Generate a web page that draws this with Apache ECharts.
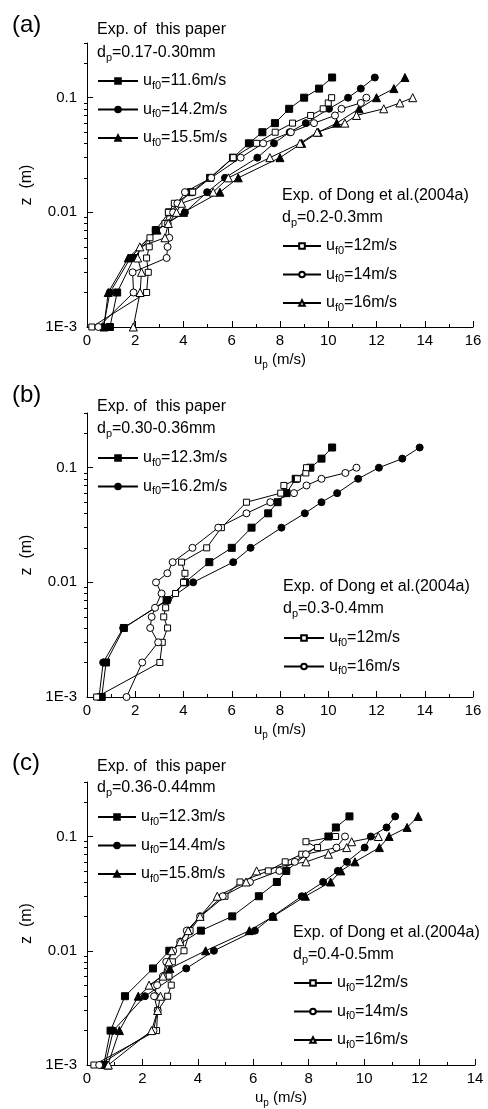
<!DOCTYPE html>
<html>
<head>
<meta charset="utf-8">
<script src="https://cdn.jsdelivr.net/npm/echarts@6/dist/echarts.min.js"></script>
<style>html,body{margin:0;padding:0;background:#fff;}#c{width:488px;height:1109px;}</style>
</head>
<body>
<div id="c"></div>
<script>
// ---------- data: [u_p (m/s), z (m)] ----------
// Panel (a)
const a_this_116 = [[0.95,0.001],[1.25,0.002],[1.95,0.004],[2.85,0.007],[3.4,0.01],[4.3,0.015],[5.1,0.02],[6.05,0.03],[6.71,0.04],[7.27,0.05],[7.79,0.06],[8.38,0.08],[9.0,0.1],[9.62,0.12],[10.16,0.15]];
const a_this_142 = [[0.68,0.001],[0.95,0.002],[1.8,0.004],[2.85,0.007],[4.06,0.01],[4.98,0.015],[5.72,0.02],[7.06,0.03],[7.75,0.04],[8.4,0.05],[9.07,0.06],[10.03,0.08],[10.82,0.1],[11.35,0.12],[11.93,0.15]];
const a_this_155 = [[0.7,0.001],[0.88,0.002],[1.71,0.004],[2.9,0.007],[4.0,0.01],[5.51,0.015],[6.27,0.02],[8.0,0.03],[8.9,0.04],[9.59,0.05],[10.35,0.06],[11.28,0.08],[12.0,0.1],[12.72,0.12],[13.18,0.15]];
const a_dong_12 = [[0.2,0.001],[2.47,0.002],[2.54,0.003],[2.47,0.004],[2.58,0.005],[2.61,0.006],[3.23,0.008],[3.37,0.01],[3.62,0.012],[4.38,0.015],[5.12,0.02],[6.06,0.03],[7.03,0.04],[7.8,0.05],[8.52,0.06],[9.27,0.07],[9.79,0.08],[10.0,0.09],[10.14,0.1]];
const a_dong_14 = [[0.47,0.001],[1.93,0.002],[1.89,0.003],[3.3,0.004],[3.34,0.005],[3.41,0.006],[3.35,0.008],[3.57,0.01],[3.75,0.012],[4.06,0.015],[5.15,0.02],[6.37,0.03],[7.3,0.04],[8.45,0.05],[9.41,0.06],[10.28,0.07],[10.55,0.08],[11.35,0.09],[11.58,0.1]];
const a_dong_16 = [[1.92,0.001],[2.2,0.002],[2.26,0.003],[2.1,0.004],[2.19,0.005],[3.23,0.006],[3.37,0.008],[3.71,0.01],[3.92,0.012],[5.23,0.015],[5.86,0.02],[7.58,0.03],[8.83,0.04],[9.54,0.05],[10.69,0.06],[11.17,0.07],[12.3,0.08],[12.97,0.09],[13.5,0.1]];
// Panel (b)
const b_this_123 = [[0.61,0.001],[0.79,0.002],[1.53,0.004],[3.3,0.007],[4.06,0.01],[5.07,0.015],[6.0,0.02],[6.82,0.03],[7.51,0.04],[7.9,0.05],[8.27,0.06],[8.65,0.08],[9.26,0.1],[9.72,0.12],[10.16,0.15]];
const b_this_162 = [[0.5,0.001],[0.67,0.002],[1.5,0.004],[3.35,0.007],[4.4,0.01],[6.06,0.015],[6.78,0.02],[8.06,0.03],[9.03,0.04],[9.72,0.05],[10.37,0.06],[11.24,0.08],[12.1,0.1],[13.07,0.12],[13.79,0.15]];
const b_dong_12 = [[0.4,0.001],[3.02,0.002],[3.12,0.003],[3.34,0.004],[3.18,0.005],[3.26,0.006],[3.67,0.008],[4.0,0.01],[4.06,0.012],[3.92,0.015],[4.96,0.02],[5.57,0.03],[6.61,0.05],[8.03,0.06],[8.16,0.07],[8.72,0.08],[9.07,0.09],[9.1,0.1]];
const b_dong_16 = [[1.64,0.001],[2.29,0.002],[2.95,0.003],[2.62,0.004],[2.68,0.005],[2.82,0.006],[3.09,0.008],[2.86,0.01],[3.33,0.012],[3.55,0.015],[4.37,0.02],[5.44,0.03],[6.61,0.04],[7.6,0.05],[8.58,0.06],[9.1,0.07],[9.72,0.08],[10.71,0.09],[11.17,0.1]];
// Panel (c)
const c_this_123 = [[0.6,0.001],[0.85,0.002],[1.37,0.004],[2.38,0.007],[2.97,0.01],[4.11,0.015],[5.24,0.02],[6.2,0.03],[6.85,0.04],[7.19,0.05],[8.71,0.1],[8.98,0.12],[9.47,0.15]];
const c_this_144 = [[0.65,0.001],[0.95,0.002],[2.09,0.004],[3.58,0.007],[4.58,0.01],[6.06,0.015],[6.7,0.02],[7.75,0.03],[8.52,0.04],[9.05,0.05],[9.38,0.06],[10.02,0.08],[10.24,0.1],[10.81,0.12],[11.12,0.15]];
const c_this_158 = [[0.75,0.001],[1.17,0.002],[1.85,0.004],[2.99,0.007],[4.28,0.01],[5.86,0.015],[6.72,0.02],[7.88,0.03],[8.79,0.04],[9.16,0.05],[9.67,0.06],[10.55,0.08],[10.9,0.1],[11.55,0.12],[11.95,0.15]];
const c_dong_12 = [[0.25,0.001],[2.51,0.002],[2.55,0.003],[2.91,0.004],[3.04,0.005],[2.96,0.006],[3.08,0.008],[3.5,0.01],[3.72,0.015],[4.1,0.02],[4.98,0.03],[5.52,0.04],[6.54,0.05],[7.15,0.06],[7.75,0.07],[8.32,0.08],[7.9,0.09],[8.97,0.1]];
const c_dong_14 = [[0.44,0.001],[2.4,0.002],[2.55,0.003],[2.42,0.004],[2.53,0.005],[2.74,0.006],[2.86,0.008],[3.11,0.01],[3.36,0.012],[3.6,0.015],[4.08,0.02],[4.9,0.03],[5.88,0.04],[6.94,0.05],[7.5,0.06],[7.9,0.07],[9.0,0.08],[9.31,0.1]];
const c_dong_16 = [[0.77,0.001],[2.33,0.002],[2.55,0.003],[2.65,0.004],[2.24,0.005],[2.74,0.006],[2.95,0.008],[3.05,0.01],[3.36,0.012],[3.65,0.015],[4.08,0.02],[4.7,0.03],[5.74,0.04],[6.12,0.05],[7.9,0.06],[8.71,0.07],[9.37,0.08],[9.55,0.09],[10.51,0.1]];

// tick values / labels
const xMaxes = [16, 16, 14];
const yMajorTicks = [0.001, 0.01, 0.1];
const yMinorTicks = [0.002,0.003,0.004,0.005,0.006,0.007,0.008,0.009,0.02,0.03,0.04,0.05,0.06,0.07,0.08,0.09,0.2,0.3];
const panelLetters = ['(a)', '(b)', '(c)'];
const thisDp = ['0.17-0.30mm', '0.30-0.36mm', '0.36-0.44mm'];
const dongDp = ['0.2-0.3mm', '0.3-0.4mm', '0.4-0.5mm'];

// ---------- layout ----------
const FONT = 'Liberation Sans, Arial, Helvetica, sans-serif';
const gridsPx = [
  {left: 87, top: 43, width: 386, height: 284},
  {left: 87, top: 413, width: 386, height: 284},
  {left: 87, top: 782, width: 388, height: 283}
];
const rich = {
  m: {fontSize: 16, lineHeight: 20, fontFamily: FONT, color: '#000'},
  s: {fontSize: 11, lineHeight: 10, verticalAlign: 'bottom', fontFamily: FONT, color: '#000'}
};
const richAxis = {
  m: {fontSize: 15, lineHeight: 20, fontFamily: FONT, color: '#000'},
  s: {fontSize: 10, lineHeight: 10, verticalAlign: 'bottom', fontFamily: FONT, color: '#000'}
};

// series definitions per panel
const panelSeries = [
  {
    this: [['a_116', '11.6', a_this_116, 'rect'], ['a_142', '14.2', a_this_142, 'circle'], ['a_155', '15.5', a_this_155, 'triangle']],
    dong: [['a_d12', '12', a_dong_12, 'rect'], ['a_d14', '14', a_dong_14, 'circle'], ['a_d16', '16', a_dong_16, 'triangle']]
  },
  {
    this: [['b_123', '12.3', b_this_123, 'rect'], ['b_162', '16.2', b_this_162, 'circle']],
    dong: [['b_d12', '12', b_dong_12, 'rect'], ['b_d16', '16', b_dong_16, 'circle']]
  },
  {
    this: [['c_123', '12.3', c_this_123, 'rect'], ['c_144', '14.4', c_this_144, 'circle'], ['c_158', '15.8', c_this_158, 'triangle']],
    dong: [['c_d12', '12', c_dong_12, 'rect'], ['c_d14', '14', c_dong_14, 'circle'], ['c_d16', '16', c_dong_16, 'triangle']]
  }
];

const labelOf = {};
const series = [];
const symSize = {rect: 7, circle: 7, triangle: 8};
const symSizeOpen = {rect: 6, circle: 7, triangle: 8};
function addSeries(p, def, filled) {
  const [id, lab, data, sym] = def;
  labelOf[id] = lab;
  series.push({
    name: id, type: 'line', xAxisIndex: p, yAxisIndex: 2 * p,
    data: data, symbol: sym, symbolSize: filled ? symSize[sym] : symSizeOpen[sym],
    showAllSymbol: true, smooth: false, animation: false,
    lineStyle: {color: '#000', width: 1},
    itemStyle: {color: filled ? '#000' : '#fff', borderColor: '#000', borderWidth: 1},
    emphasis: {disabled: true}
  });
}
panelSeries.forEach((ps, p) => {
  ps.this.forEach(d => addSeries(p, d, true));
  ps.dong.forEach(d => addSeries(p, d, false));
});

const titleTop = [
  {letter: 11, exp: 20, dp: 43, leg: 71, dexp: 186, ddp: 208, dleg: 236, dleft: 282, tw: 40, dw: 38},
  {letter: 381, exp: 397, dp: 419, leg: 448, dexp: 577, ddp: 599, dleg: 628, dleft: 283, tw: 40, dw: 40},
  {letter: 749, exp: 757, dp: 778, leg: 807, dexp: 923, ddp: 945, dleg: 973, dleft: 293, tw: 38, dw: 38}
];

const titles = [], legends = [], grids = [], xAxes = [], yAxes = [];
const legendFormatter = name => '{m|u}{s|f0}{m|=' + labelOf[name] + 'm/s}';
for (let p = 0; p < 3; p++) {
  const t = titleTop[p];
  titles.push({text: panelLetters[p], left: 12, top: t.letter, padding: 0,
    textStyle: {fontSize: 24, fontWeight: 'normal', fontFamily: FONT, color: '#000', lineHeight: 28}});
  titles.push({text: '{m|Exp. of  this paper}', left: 97, top: t.exp, padding: 0,
    textStyle: {fontSize: 16, fontWeight: 'normal', lineHeight: 20, rich: rich}});
  titles.push({text: '{m|d}{s|p}{m|=' + thisDp[p] + '}', left: 97, top: t.dp, padding: 0,
    textStyle: {fontSize: 16, fontWeight: 'normal', lineHeight: 20, rich: rich}});
  titles.push({text: '{m|Exp. of Dong et al.(2004a)}', left: t.dleft, top: t.dexp, padding: 0,
    textStyle: {fontSize: 16, fontWeight: 'normal', lineHeight: 20, rich: rich}});
  titles.push({text: '{m|d}{s|p}{m|=' + dongDp[p] + '}', left: t.dleft, top: t.ddp, padding: 0,
    textStyle: {fontSize: 16, fontWeight: 'normal', lineHeight: 20, rich: rich}});

  legends.push({
    data: panelSeries[p].this.map(d => d[0]), orient: 'vertical', left: 97, top: t.leg,
    padding: 0, itemGap: 8.5, itemWidth: t.tw, itemHeight: 7, selectedMode: false,
    formatter: legendFormatter, textStyle: {fontSize: 16, lineHeight: 20, rich: rich}
  });
  legends.push({
    data: panelSeries[p].dong.map(d => d[0]), orient: 'vertical', left: t.dleft, top: t.dleg,
    padding: 0, itemGap: 8.5, itemWidth: t.dw, itemHeight: 7, selectedMode: false,
    formatter: legendFormatter, textStyle: {fontSize: 16, lineHeight: 20, rich: rich}
  });

  grids.push(Object.assign({containLabel: false}, gridsPx[p]));
  xAxes.push({
    type: 'value', gridIndex: p, min: 0, max: xMaxes[p], interval: 2,
    axisLine: {show: true, onZero: false, lineStyle: {color: '#000', width: 1}},
    axisTick: {show: true, inside: true, length: 6, lineStyle: {color: '#000', width: 1}},
    minorTick: {show: true, splitNumber: 2, length: 3, lineStyle: {color: '#000', width: 1}},
    splitLine: {show: false}, minorSplitLine: {show: false},
    axisLabel: {fontSize: 15, color: '#000', fontFamily: FONT, margin: 6},
    name: '{m|u}{s|p}{m| (m/s)}', nameLocation: 'middle', nameGap: 23,
    nameTextStyle: {rich: richAxis, lineHeight: 20}
  });
  yAxes.push({
    type: 'log', logBase: 10, gridIndex: p, min: 0.001, max: 0.3,
    axisLine: {show: true, onZero: false, lineStyle: {color: '#000', width: 1}},
    axisTick: {show: true, inside: true, length: 6, customValues: yMajorTicks, lineStyle: {color: '#000', width: 1}},
    axisLabel: {customValues: yMajorTicks, fontSize: 15, color: '#000', fontFamily: FONT, margin: 10,
      formatter: v => { const e = Math.round(Math.log10(v)); return e === -3 ? '1E-3' : (e === -2 ? '0.01' : '0.1'); }},
    splitLine: {show: false}, minorTick: {show: false},
    name: 'z  (m)', nameLocation: 'middle', nameGap: 39,
    nameTextStyle: {fontSize: 16, color: '#000', fontFamily: FONT}
  });
  yAxes.push({
    type: 'log', logBase: 10, gridIndex: p, min: 0.001, max: 0.3,
    axisLine: {show: false},
    axisTick: {show: true, inside: true, length: 3, customValues: yMinorTicks, lineStyle: {color: '#000', width: 1}},
    axisLabel: {show: false}, splitLine: {show: false}, minorTick: {show: false}
  });
}

const chart = echarts.init(document.getElementById('c'), null, {renderer: 'canvas'});
chart.setOption({
  animation: false,
  backgroundColor: '#fff',
  textStyle: {fontFamily: FONT, color: '#000'},
  title: titles,
  legend: legends,
  grid: grids,
  xAxis: xAxes,
  yAxis: yAxes,
  series: series
});
</script>
</body>
</html>
